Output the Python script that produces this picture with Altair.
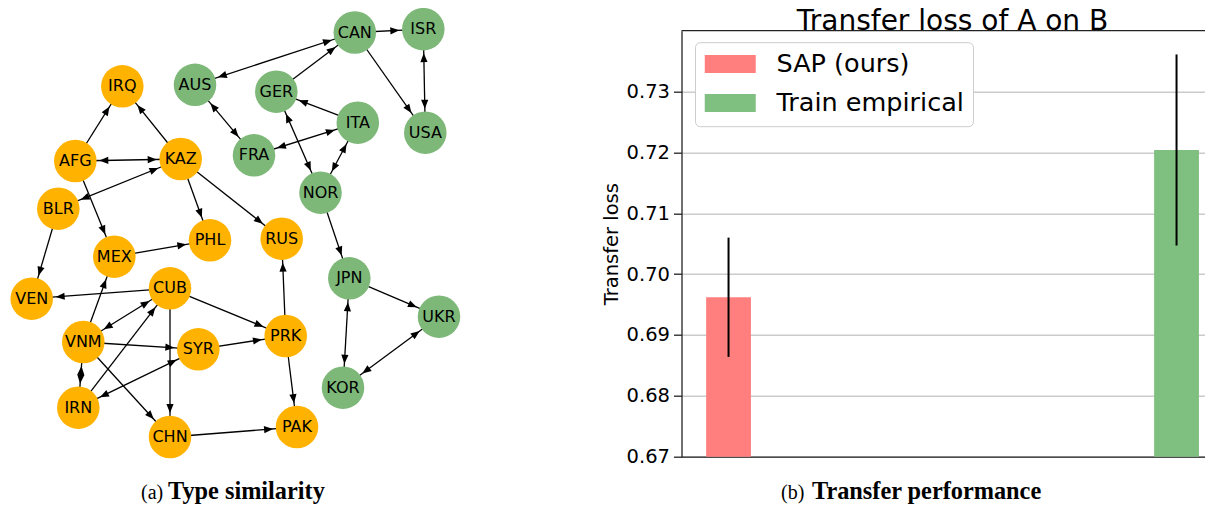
import math
import altair as alt
import pandas as pd

# ---------------- data: network (left panel) ----------------
node_names = ["CAN", "ISR", "AUS", "GER", "ITA", "USA", "FRA", "NOR", "JPN", "UKR", "KOR",
              "IRQ", "AFG", "KAZ", "BLR", "PHL", "RUS", "MEX", "CUB", "VEN", "VNM", "SYR",
              "PRK", "IRN", "CHN", "PAK"]
node_x = [354.8, 423.3, 195.0, 276.3, 357.8, 425.3, 254.0, 320.5, 349.3, 439.0, 343.0,
          122.3, 75.3, 180.7, 58.3, 210.0, 281.7, 114.3, 170.0, 31.7, 83.3, 198.3,
          285.7, 78.3, 170.0, 297.0]
node_y = [32.5, 29.2, 84.8, 91.7, 122.7, 132.7, 155.3, 192.7, 278.3, 316.7, 387.7,
          86.3, 161.0, 159.0, 208.7, 240.3, 238.7, 256.7, 288.3, 298.7, 342.0, 349.3,
          336.0, 407.7, 437.0, 427.0]
node_group = ["west"] * 11 + ["east"] * 15
group_color = {"west": "#7DB879", "east": "#FFB300"}

edge_src = ["CAN", "CAN", "GER", "CAN", "ISR", "AUS", "ITA", "FRA", "GER", "ITA", "NOR",
            "JPN", "JPN", "UKR", "AFG", "KAZ", "AFG", "KAZ", "KAZ", "KAZ", "AFG", "BLR",
            "MEX", "CUB", "CUB", "VNM", "IRN", "CUB", "CUB", "VNM", "VNM", "VNM", "SYR",
            "SYR", "PRK", "PRK", "CHN"]
edge_dst = ["ISR", "AUS", "CAN", "USA", "USA", "FRA", "GER", "ITA", "NOR", "NOR", "JPN",
            "UKR", "KOR", "KOR", "IRQ", "IRQ", "KAZ", "BLR", "PHL", "RUS", "MEX", "VEN",
            "PHL", "VEN", "VNM", "MEX", "CUB", "PRK", "CHN", "SYR", "CHN", "IRN", "IRN",
            "PRK", "RUS", "PAK", "PAK"]
edge_both = [False, True, False, False, True, True, False, True, True, True, False,
             False, True, True, False, False, True, True, False, False, False, False,
             False, False, True, False, False, False, False, False, False, True, True,
             False, False, False, False]

# ---------------- data: bar chart (right panel) ----------------
series = ["SAP (ours)", "Train empirical"]
series_colors = ["#FF7F7F", "#7FBF7F"]
bar_pos = [0, 1]
bar_mean = [0.6962, 0.7204]
bar_err = [0.0098, 0.0157]
y_ticks = [0.67, 0.68, 0.69, 0.70, 0.71, 0.72, 0.73]
y_max = 0.74
chart_title = "Transfer loss of A on B"
y_title = "Transfer loss"

# captions (page coordinates of text starts)
cap_text = ["(a)", "Type similarity", "(b)", "Transfer performance"]
cap_x = [141.0, 168.0, 781.0, 812.0]
cap_bold = [False, True, False, True]

# ---------------- layout ----------------
PAGE_W, PAGE_H = 1213, 513
VIS_R, VIS_B = 1205.0, 505.0          # last page pixel the svg may reach
PLOT_L, PLOT_T, PLOT_R, PLOT_B = 681.5, 30.7, VIS_R, 456.7
W = PLOT_R - PLOT_L
H = PLOT_B - PLOT_T
UNIT = 448.0  # px per bar-position unit
R_NODE = 24.0
ARROW_HALF = 4.5

pos = {n: (x, y) for n, x, y in zip(node_names, node_x, node_y)}
nodes_df = pd.DataFrame({"name": node_names, "x": node_x, "y": node_y,
                         "color": [group_color[g] for g in node_group]})
edge_rows, arrow_rows = [], []
for s, t, both in zip(edge_src, edge_dst, edge_both):
    xs, ys = pos[s]
    xt, yt = pos[t]
    dx, dy = xt - xs, yt - ys
    L = math.hypot(dx, dy)
    ux, uy = dx / L, dy / L
    edge_rows.append({"x1": xs, "y1": ys, "x2": xt, "y2": yt})
    d = R_NODE + ARROW_HALF
    arrow_rows.append({"x": xt - ux * d, "y": yt - uy * d,
                       "angle": math.degrees(math.atan2(ux, -uy)) % 360})
    if both:
        arrow_rows.append({"x": xs + ux * d, "y": ys + uy * d,
                           "angle": math.degrees(math.atan2(-ux, uy)) % 360})
edges_df = pd.DataFrame(edge_rows)
arrows_df = pd.DataFrame(arrow_rows)
caps_df = pd.DataFrame({"text": cap_text, "x": cap_x, "y": [499.0] * 4, "bold": cap_bold})
title_df = pd.DataFrame({"text": [chart_title], "x": [952.5], "y": [30.0]})

net_x = alt.Scale(domain=[0, PAGE_W], range=[-PLOT_L, PAGE_W - PLOT_L])
net_y = alt.Scale(domain=[0, PAGE_H], range=[-PLOT_T, PAGE_H - PLOT_T])


def nx(field):
    return alt.X(field, type="quantitative", scale=net_x, axis=None)


def ny(field):
    return alt.Y(field, type="quantitative", scale=net_y, axis=None)


edges = alt.Chart(edges_df).mark_rule(color="black", strokeWidth=1.3).encode(
    x=nx("x1"), y=ny("y1"), x2="x2:Q", y2="y2:Q")
nodes = alt.Chart(nodes_df).mark_circle(size=math.pi * R_NODE ** 2, opacity=1).encode(
    x=nx("x"), y=ny("y"), color=alt.Color("color:N", scale=None))
arrow_path = "M0,-1L0.8,1L-0.8,1Z"
arrows = alt.Chart(arrows_df).mark_point(
    shape=arrow_path, filled=True, size=81, color="black", opacity=1, strokeWidth=0
).encode(x=nx("x"), y=ny("y"), angle=alt.Angle("angle:Q", scale=None))
labels = alt.Chart(nodes_df).mark_text(
    font="DejaVu Sans", fontSize=16, color="black", align="center", baseline="middle"
).encode(x=nx("x"), y=ny("y"), text="name:N")
title_txt = alt.Chart(title_df).mark_text(
    font="DejaVu Sans", fontSize=28, color="black", align="center", baseline="alphabetic"
).encode(x=nx("x"), y=ny("y"), text="text:N")
cap_reg = alt.Chart(caps_df).transform_filter("!datum.bold").mark_text(
    font="Liberation Serif", fontSize=20, color="black", align="left", baseline="alphabetic"
).encode(x=nx("x"), y=ny("y"), text="text:N")
cap_b = alt.Chart(caps_df).transform_filter("datum.bold").mark_text(
    font="Liberation Serif", fontSize=24.3, fontWeight="bold", color="black", align="left",
    baseline="alphabetic"
).encode(x=nx("x"), y=ny("y"), text="text:N")

network = alt.layer(edges, nodes, arrows, labels, title_txt, cap_reg, cap_b)

# ---------------- bar chart ----------------
bars_df = pd.DataFrame({"series": series, "pos": bar_pos, "mean": bar_mean, "err": bar_err})
bx = alt.Scale(domain=[-0.105, -0.105 + W / UNIT], nice=False, zero=False)
by = alt.Scale(domain=[y_ticks[0], y_max], nice=False, zero=False)

legend_symbol = "M-1,-1L4.667,-1L4.667,1L-1,1Z"
legend = alt.Legend(
    title=None, orient="none", legendX=13.5, legendY=11.5, padding=9,
    fillColor="white", strokeColor="#cccccc", cornerRadius=5,
    labelFont="DejaVu Sans", labelFontSize=25.5, labelColor="black", labelOffset=50,
    labelLimit=500,
    symbolType=legend_symbol, symbolSize=324, symbolOffset=-3, symbolStrokeWidth=0,
    symbolOpacity=1, rowPadding=12,
)
y_axis = alt.Axis(
    orient="left", values=y_ticks, format=".2f", tickSize=8, labelPadding=4,
    labelFont="DejaVu Sans", labelFontSize=19.5, labelColor="black",
    title=y_title, titleFont="DejaVu Sans", titleFontSize=19.5, titleFontWeight="normal",
    titleColor="black", titlePadding=5,
    domainColor="#222222", domainWidth=1.3, tickColor="#222222", tickWidth=1.3,
    grid=True, gridColor="#cbcbcb", gridWidth=1.5,
)
x_axis = alt.Axis(orient="bottom", labels=False, ticks=False, grid=False, title=None,
                  domainColor="#222222", domainWidth=1.3)

base = alt.Chart(bars_df).transform_calculate(
    x0="datum.pos - 0.05", x1="datum.pos + 0.05",
    lo="datum.mean - datum.err", hi="datum.mean + datum.err")
bars = base.mark_bar(opacity=1).encode(
    x=alt.X("x0:Q", scale=bx, axis=x_axis), x2="x1:Q",
    y=alt.Y("mean:Q", scale=by, axis=y_axis), y2=alt.datum(y_ticks[0]),
    color=alt.Color("series:N", scale=alt.Scale(domain=series, range=series_colors),
                    legend=legend),
)
errs = base.mark_rule(color="black", strokeWidth=2).encode(
    x="pos:Q", y="lo:Q", y2="hi:Q")
top_spine = alt.Chart(pd.DataFrame({"y": [y_max]})).mark_rule(
    color="#222222", strokeWidth=1.3).encode(y="y:Q")

barchart = alt.layer(bars, errs, top_spine)

chart = alt.layer(barchart, network).resolve_scale(
    x="independent", y="independent", color="independent"
).properties(
    width=W, height=H,
    padding={"left": PLOT_L - 8, "top": PLOT_T - 8, "right": VIS_R - PLOT_R,
             "bottom": VIS_B - PLOT_B},
    autosize=alt.AutoSizeParams(type="none"),
).configure_view(stroke=None)

chart.save("out.html", embed_options={"renderer": "svg", "actions": False})
